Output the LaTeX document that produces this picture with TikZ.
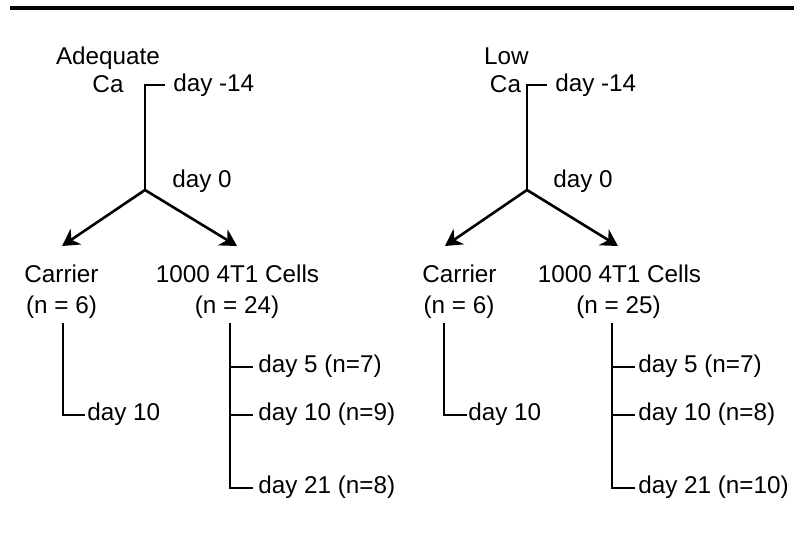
\documentclass[tikz,border=0pt]{standalone}
\usepackage{fontspec}
\setmainfont{Liberation Sans}
\usetikzlibrary{arrows.meta}
\begin{document}
\begin{tikzpicture}[x=0.75pt,y=-0.75pt,
  txt/.style={inner sep=0pt, font=\fontsize{18.2}{21.6}\selectfont},
  lbl/.style={txt, anchor=base west},
  ctr/.style={txt, anchor=base},
  wire/.style={line width=1.95pt},
  arr/.style={wire, -{Stealth[length=12.5pt,width=14pt,inset=4pt]}}]
\useasboundingbox (0,0) rectangle (794,538);

% rule across the top
\draw[line width=2.3pt] (10,8) -- (794,8);

% ---------------- adequate calcium arm ----------------
\node[ctr] (adqA) at (108,65) {Adequate};
\node[ctr] (caA)  at (108,93) {Ca};
\node[lbl] (dA14) at (173,92) {day -14};
\node[lbl] (dA0)  at (172,188) {day 0};
\coordinate (tA) at (165,85);
\coordinate (kA) at (145,85);
\coordinate (jA) at (145,190);
\coordinate (aAc) at (62,246);
\coordinate (aAt) at (237,246);
\draw[wire] (tA) -- (kA) -- (jA);
\draw[arr] (jA) -- (aAc);
\draw[arr] (jA) -- (aAt);

\node[ctr] (carA)  at (61.5,283) {Carrier};
\node[ctr] (carAn) at (61.5,314) {(n = 6)};
\node[ctr] (celA)  at (237.5,283) {1000 4T1 Cells};
\node[ctr] (celAn) at (237,314) {(n = 24)};

% carrier follow-up
\coordinate (cAtop) at (63,323);
\coordinate (cAend) at (85,415);
\draw[wire] (cAtop) |- (cAend);
\node[lbl] (cA10) at (87,421) {day 10};

% tumour cell follow-up
\coordinate (tAtop) at (230,323);
\coordinate (tA5)  at (253,367);
\coordinate (tA10) at (253,415);
\coordinate (tA21) at (253,488);
\draw[wire] (tAtop) |- (tA21);
\draw[wire] (tA5 -| tAtop) -- (tA5);
\draw[wire] (tA10 -| tAtop) -- (tA10);
\node[lbl] (lA5)  at (258,373) {day 5 (n=7)};
\node[lbl] (lA10) at (258,421) {day 10 (n=9)};
\node[lbl] (lA21) at (258,494) {day 21 (n=8)};

% ---------------- low calcium arm ----------------
\node[ctr] (lowB) at (506.5,65) {Low};
\node[ctr] (caB)  at (505.5,93) {Ca};
\node[lbl] (dB14) at (555,92) {day -14};
\node[lbl] (dB0)  at (553,188) {day 0};
\coordinate (tB) at (547,85);
\coordinate (kB) at (527,85);
\coordinate (jB) at (527,190);
\coordinate (aBc) at (445,246);
\coordinate (aBt) at (618,246);
\draw[wire] (tB) -- (kB) -- (jB);
\draw[arr] (jB) -- (aBc);
\draw[arr] (jB) -- (aBt);

\node[ctr] (carB)  at (459.5,283) {Carrier};
\node[ctr] (carBn) at (459,314) {(n = 6)};
\node[ctr] (celB)  at (619.5,283) {1000 4T1 Cells};
\node[ctr] (celBn) at (618.5,314) {(n = 25)};

% carrier follow-up
\coordinate (cBtop) at (444,323);
\coordinate (cBend) at (467,415);
\draw[wire] (cBtop) |- (cBend);
\node[lbl] (cB10) at (468,421) {day 10};

% tumour cell follow-up
\coordinate (tBtop) at (612,323);
\coordinate (tB5)  at (635,367);
\coordinate (tB10) at (635,415);
\coordinate (tB21) at (635,488);
\draw[wire] (tBtop) |- (tB21);
\draw[wire] (tB5 -| tBtop) -- (tB5);
\draw[wire] (tB10 -| tBtop) -- (tB10);
\node[lbl] (lB5)  at (638,373) {day 5 (n=7)};
\node[lbl] (lB10) at (638,421) {day 10 (n=8)};
\node[lbl] (lB21) at (638,494) {day 21 (n=10)};
\end{tikzpicture}
\end{document}
